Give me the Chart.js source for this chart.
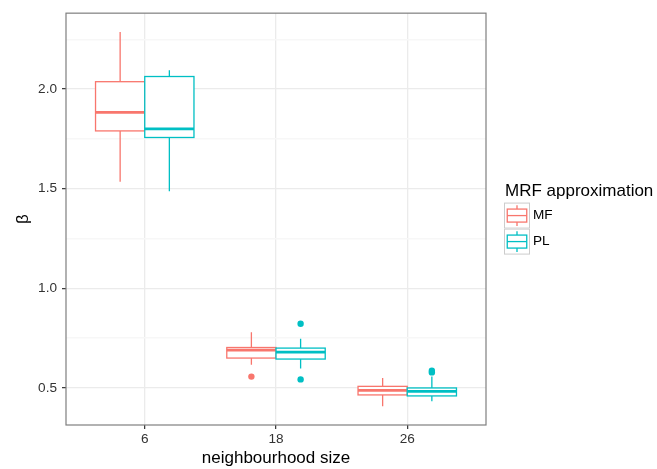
<!DOCTYPE html>
<html>
<head>
<meta charset="utf-8">
<script src="https://cdn.jsdelivr.net/npm/chart.js@4.4.1/dist/chart.umd.min.js"></script>
<style>
  body { margin: 0; background: #fff; }
  #wrap { width: 657px; height: 469px; }
</style>
</head>
<body>
<div id="wrap"><canvas id="boxChart" width="657" height="469"></canvas></div>
<script>
// x categories (neighbourhood size) and the two series
const categories = ['6', '18', '26'];
const seriesNames = ['MF', 'PL'];
const seriesColors = ['#F8766D', '#00BFC4'];

// MF box stats, one value per category
const mfLower = [1.535, 0.617, 0.408];
const mfQ1 = [1.790, 0.650, 0.465];
const mfMedian = [1.883, 0.690, 0.488];
const mfQ3 = [2.037, 0.703, 0.508];
const mfUpper = [2.287, 0.780, 0.550];
const mfOutliers = [[], [0.557], []];

// PL box stats
const plLower = [1.487, 0.597, 0.433];
const plQ1 = [1.757, 0.645, 0.460];
const plMedian = [1.800, 0.680, 0.483];
const plQ3 = [2.063, 0.700, 0.500];
const plUpper = [2.095, 0.747, 0.558];
const plOutliers = [[], [0.822, 0.543], [0.586, 0.578]];

// y axis ticks (minor lines in between the labelled ones)
const yTicks = [0.5, 0.75, 1.0, 1.25, 1.5, 1.75, 2.0, 2.25];
const yLabelled = [0.5, 1.0, 1.5, 2.0];

const boxWidth = 0.375;           // in category units
const dodge = [-0.1875, 0.1875];  // offset of each series from the category centre

const boxes = [
  { lower: mfLower, q1: mfQ1, median: mfMedian, q3: mfQ3, upper: mfUpper, out: mfOutliers },
  { lower: plLower, q1: plQ1, median: plMedian, q3: plQ3, upper: plUpper, out: plOutliers }
];

// y range = data range + 5% each side (like ggplot)
const allVals = boxes.flatMap(b => [...b.lower, ...b.upper, ...b.out.flat()]);
const yLo = Math.min(...allVals), yHi = Math.max(...allVals);
const yPad = (yHi - yLo) * 0.05;

const isMajor = v => yLabelled.some(t => Math.abs(t - v) < 1e-6);

// draws whiskers, boxes and medians through the chart scales
const boxPlugin = {
  id: 'boxes',
  beforeDatasetsDraw(chart) {
    const { ctx, scales: { x, y } } = chart;
    const half = (x.getPixelForValue(boxWidth) - x.getPixelForValue(0)) / 2;
    ctx.save();
    categories.forEach((c, i) => {
      boxes.forEach((b, si) => {
        const cx = x.getPixelForValue(i + 1 + dodge[si]);
        const yl = y.getPixelForValue(b.lower[i]);
        const y1 = y.getPixelForValue(b.q1[i]);
        const ym = y.getPixelForValue(b.median[i]);
        const y3 = y.getPixelForValue(b.q3[i]);
        const yu = y.getPixelForValue(b.upper[i]);
        ctx.strokeStyle = seriesColors[si];
        ctx.lineWidth = 1.3;
        // whiskers
        ctx.beginPath();
        ctx.moveTo(cx, yu); ctx.lineTo(cx, y3);
        ctx.moveTo(cx, y1); ctx.lineTo(cx, yl);
        ctx.stroke();
        // box
        ctx.fillStyle = '#ffffff';
        ctx.fillRect(cx - half, y3, half * 2, y1 - y3);
        ctx.strokeRect(cx - half, y3, half * 2, y1 - y3);
        // median
        ctx.lineWidth = 2.7;
        ctx.beginPath();
        ctx.moveTo(cx - half, ym); ctx.lineTo(cx + half, ym);
        ctx.stroke();
      });
    });
    ctx.restore();
  },
  afterDatasetsDraw(chart) {
    // panel border
    const { ctx, chartArea: a } = chart;
    ctx.save();
    ctx.strokeStyle = '#7f7f7f';
    ctx.lineWidth = 1.2;
    ctx.strokeRect(a.left, a.top, a.right - a.left, a.bottom - a.top);
    ctx.restore();
  },
  afterDraw(chart) {
    // legend on the right
    const { ctx, chartArea: a } = chart;
    const lx = a.right + 18;
    const mid = (a.top + a.bottom) / 2;
    const key = 26;
    ctx.save();
    ctx.fillStyle = '#000';
    ctx.font = "17px 'Liberation Sans', Arial, sans-serif";
    ctx.textBaseline = 'middle';
    ctx.textAlign = 'left';
    ctx.fillText('MRF approximation', lx + 1, mid - 28);
    seriesNames.forEach((name, si) => {
      const ky = mid - 16.5 + si * key;
      ctx.fillStyle = '#fff';
      ctx.fillRect(lx, ky, key, key);
      ctx.strokeStyle = '#cccccc';
      ctx.lineWidth = 1;
      ctx.strokeRect(lx + 0.5, ky + 0.5, key - 1, key - 1);
      const kx = lx + key / 2;
      ctx.strokeStyle = seriesColors[si];
      ctx.lineWidth = 1.3;
      ctx.beginPath();
      ctx.moveTo(kx, ky + key * 0.1); ctx.lineTo(kx, ky + key * 0.25);
      ctx.moveTo(kx, ky + key * 0.75); ctx.lineTo(kx, ky + key * 0.9);
      ctx.stroke();
      ctx.strokeRect(lx + key * 0.125, ky + key * 0.25, key * 0.75, key * 0.5);
      ctx.beginPath();
      ctx.moveTo(lx + key * 0.125, ky + key / 2); ctx.lineTo(lx + key * 0.875, ky + key / 2);
      ctx.stroke();
      ctx.fillStyle = '#000';
      ctx.font = "13.6px 'Liberation Sans', Arial, sans-serif";
      ctx.fillText(name, lx + key + 3, ky + key / 2);
    });
    ctx.restore();
  }
};

// outliers as scatter points
const datasets = boxes.map((b, si) => ({
  label: seriesNames[si],
  data: b.out.flatMap((vals, i) => vals.map(v => ({ x: i + 1 + dodge[si], y: v }))),
  backgroundColor: seriesColors[si],
  borderWidth: 0,
  pointRadius: 3.2,
  pointHoverRadius: 3.2
}));

Chart.defaults.font.family = "'Liberation Sans', Arial, sans-serif";

new Chart(document.getElementById('boxChart'), {
  type: 'scatter',
  data: { datasets },
  plugins: [boxPlugin],
  options: {
    responsive: false,
    animation: false,
    devicePixelRatio: 1,
    layout: { padding: { top: 12, right: 171, left: 0, bottom: 0 } },
    plugins: { legend: { display: false }, tooltip: { enabled: false } },
    scales: {
      x: {
        type: 'linear',
        min: 0.4,
        max: 3.6,
        afterBuildTicks: s => { s.ticks = categories.map((c, i) => ({ value: i + 1 })); },
        afterFit: s => { s.height = 44; },
        ticks: {
          callback: (v) => categories[Math.round(v) - 1],
          color: '#333333',
          font: { size: 13.6 },
          padding: 2,
          maxRotation: 0
        },
        grid: { color: '#ebebeb', lineWidth: 1.3, tickColor: '#333', tickLength: 4, tickWidth: 1.2 },
        border: { display: false },
        title: { display: true, text: 'neighbourhood size', color: '#000', font: { size: 17 }, padding: { top: 0, bottom: 0 } }
      },
      y: {
        min: yLo - yPad,
        max: yHi + yPad,
        afterBuildTicks: s => { s.ticks = yTicks.map(v => ({ value: v })); },
        afterFit: s => { s.width = 66; },
        ticks: {
          callback: v => isMajor(v) ? v.toFixed(1) : '',
          color: '#333333',
          font: { size: 13.6 },
          padding: 5
        },
        grid: {
          color: c => isMajor(c.tick.value) ? '#ebebeb' : '#f7f7f7',
          lineWidth: c => isMajor(c.tick.value) ? 1.3 : 1.5,
          tickColor: c => isMajor(c.tick.value) ? '#333' : 'rgba(0,0,0,0)',
          tickLength: 4,
          tickWidth: 1.2
        },
        border: { display: false },
        title: { display: true, text: 'β', color: '#000', font: { size: 17 }, padding: { top: 13, bottom: 0 } }
      }
    }
  }
});
</script>
</body>
</html>
